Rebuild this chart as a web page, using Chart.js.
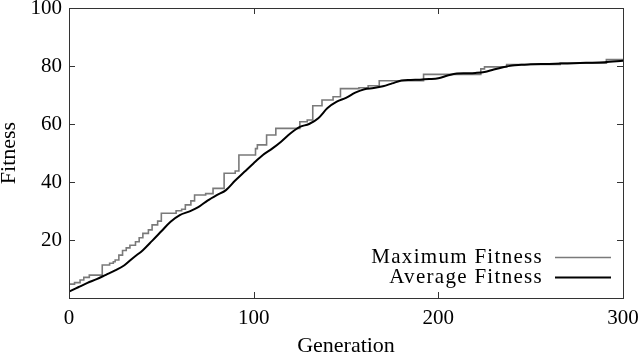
<!DOCTYPE html>
<html>
<head>
<meta charset="utf-8">
<script src="https://cdn.jsdelivr.net/npm/chart.js@4"></script>
<style>
  html, body { margin: 0; padding: 0; background: #fff; }
  #wrap { width: 640px; height: 355px; }
</style>
</head>
<body>
<div id="wrap"><canvas id="c"></canvas></div>
<script>
// ---- data ----
const seriesNames = ['Maximum Fitness', 'Average Fitness'];
// Maximum fitness: generation where a new value starts, and that value (step line)
const maxGen = [0, 3, 6, 8, 11, 18, 22, 24, 25, 27, 29, 31, 33, 36, 38, 40, 43, 45, 48, 50,
  58, 61, 63, 66, 68, 74, 78, 84, 90, 92, 101, 102, 107, 112, 125, 129, 132, 137, 143, 147,
  157, 162, 168, 192, 223, 225, 237, 266, 291, 300];
const maxFit = [4.8, 5.3, 6.2, 7.1, 7.9, 11.4, 12.0, 12.5, 13.1, 14.8, 16.4, 17.3, 18.2, 19.4, 20.8, 22.3, 23.5, 25.2, 26.5, 29.2,
  30.1, 30.6, 32.1, 33.5, 35.5, 36.0, 37.8, 43.0, 43.8, 49.3, 51.5, 52.8, 56.2, 58.5, 60.8, 61.4, 66.3, 68.3, 69.4, 72.2,
  72.5, 73.2, 74.9, 77.1, 79.0, 79.7, 80.5, 81.0, 82.2, 82.2];
// Average fitness
const avgGen = [0, 5, 10, 15, 20, 25, 30, 35, 40, 45, 50, 55, 60, 65, 70, 75, 80, 85, 90, 95,
  100, 105, 110, 115, 120, 125, 130, 135, 140, 145, 150, 155, 160, 165, 170, 175, 180, 185, 190, 195,
  200, 205, 210, 215, 220, 225, 230, 235, 240, 245, 250, 260, 270, 280, 290, 300];
const avgFit = [2.2, 3.7, 5.2, 6.5, 8.0, 9.5, 11.3, 14.0, 16.5, 19.7, 23.0, 26.3, 28.6, 29.8, 31.3, 33.6, 35.5, 37.2, 40.5, 43.5,
  46.5, 49.3, 51.5, 54.0, 56.8, 59.0, 60.0, 62.0, 65.5, 67.7, 69.0, 70.8, 72.0, 72.4, 73.0, 74.0, 75.0, 75.2, 75.3, 75.5,
  75.8, 76.7, 77.4, 77.5, 77.6, 77.9, 78.8, 79.6, 80.2, 80.4, 80.6, 80.7, 80.9, 81.1, 81.3, 81.8];
const xTicks = [0, 100, 200, 300];
const yTicks = [0, 20, 40, 60, 80, 100];
const xTitle = 'Generation';
const yTitle = 'Fitness';

// ---- styles ----
const FONT = "'Liberation Serif', 'DejaVu Serif', serif";
const GREY = '#7a7a7a';
const BLACK = '#000000';
const AXIS = '#333333';

const toPts = (xs, ys) => xs.map((x, i) => ({ x: x, y: ys[i] }));

const frameAndLegend = {
  id: 'frameAndLegend',
  afterDatasetsDraw(chart) {
    const { ctx, chartArea: a, scales } = chart;
    const xs = scales.x, ys = scales.y;
    ctx.save();
    // frame
    ctx.strokeStyle = AXIS;
    ctx.lineWidth = 1;
    ctx.strokeRect(Math.round(a.left) + 0.5, Math.round(a.top) + 0.5,
      Math.round(a.right - a.left), Math.round(a.bottom - a.top));
    // inward ticks (mirrored)
    const tl = 6;
    ctx.beginPath();
    xTicks.forEach(v => {
      if (v === xs.min || v === xs.max) return;
      const px = Math.round(xs.getPixelForValue(v)) + 0.5;
      ctx.moveTo(px, a.bottom); ctx.lineTo(px, a.bottom - tl);
      ctx.moveTo(px, a.top); ctx.lineTo(px, a.top + tl);
    });
    yTicks.forEach(v => {
      if (v === ys.min || v === ys.max) return;
      const py = Math.round(ys.getPixelForValue(v)) + 0.5;
      ctx.moveTo(a.left, py); ctx.lineTo(a.left + tl, py);
      ctx.moveTo(a.right, py); ctx.lineTo(a.right - tl, py);
    });
    ctx.stroke();
    // legend
    const ds = chart.data.datasets;
    const rows = [ds[1], ds[0]];
    ctx.font = '21px ' + FONT;
    ctx.letterSpacing = '1.3px';
    ctx.textAlign = 'right';
    ctx.textBaseline = 'alphabetic';
    ctx.fillStyle = '#000';
    rows.forEach((d, i) => {
      const y = a.bottom - 41 + i * 20;
      ctx.fillText(d.label, a.right - 80, y + 6);
      ctx.beginPath();
      ctx.strokeStyle = d.borderColor;
      ctx.lineWidth = d.borderWidth;
      ctx.moveTo(a.right - 68, y + 0.5);
      ctx.lineTo(a.right - 12, y + 0.5);
      ctx.stroke();
    });
    ctx.restore();
  }
};

new Chart(document.getElementById('c'), {
  type: 'line',
  data: {
    datasets: [
      {
        label: seriesNames[1],
        data: toPts(avgGen, avgFit),
        borderColor: BLACK,
        borderWidth: 2,
        pointRadius: 0,
        cubicInterpolationMode: 'monotone',
        order: 1
      },
      {
        label: seriesNames[0],
        data: toPts(maxGen, maxFit),
        borderColor: GREY,
        borderWidth: 1.6,
        pointRadius: 0,
        stepped: true,
        order: 2
      }
    ]
  },
  options: {
    responsive: true,
    maintainAspectRatio: false,
    animation: false,
    layout: { padding: { top: 8, right: 17, left: 0, bottom: 0 } },
    plugins: { legend: { display: false }, tooltip: { enabled: false } },
    scales: {
      x: {
        type: 'linear',
        min: xTicks[0], max: xTicks[xTicks.length - 1],
        afterBuildTicks: s => { s.ticks = xTicks.map(v => ({ value: v })); },
        afterFit: s => { s.height = 57; s.paddingLeft = 0; s.paddingRight = 0; },
        grid: { display: false, drawTicks: false },
        border: { display: false },
        ticks: { color: '#000', font: { family: FONT, size: 21 }, padding: 8, maxRotation: 0 },
        title: { display: true, text: xTitle, color: '#000', font: { family: FONT, size: 22, lineHeight: 1 }, padding: { top: 0, bottom: -2 } }
      },
      y: {
        min: yTicks[0], max: yTicks[yTicks.length - 1],
        afterBuildTicks: s => { s.ticks = yTicks.map(v => ({ value: v })); },
        afterFit: s => { s.width = 69; s.paddingTop = 0; s.paddingBottom = 0; },
        grid: { display: false, drawTicks: false },
        border: { display: false },
        ticks: {
          color: '#000', font: { family: FONT, size: 21 }, padding: 7,
          callback: v => (v === 0 ? '' : String(v))
        },
        title: { display: true, text: yTitle, color: '#000', font: { family: FONT, size: 22, lineHeight: 1 }, padding: { top: -2, bottom: 0 } }
      }
    }
  },
  plugins: [frameAndLegend]
});
</script>
</body>
</html>
